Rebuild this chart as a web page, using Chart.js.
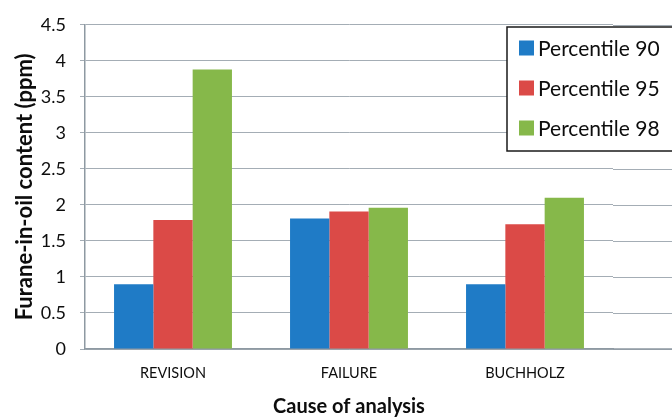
<!DOCTYPE html>
<html><head><meta charset="utf-8">
<script src="https://cdn.jsdelivr.net/npm/chart.js@4.4.1/dist/chart.umd.min.js"></script>
<style>html,body{margin:0;padding:0;background:#fff;overflow:hidden}</style>
</head><body>
<canvas id="c" width="672" height="417"></canvas>
<script>
const categories = ['REVISION', 'FAILURE', 'BUCHHOLZ'];
const seriesNames = ['Percentile 90', 'Percentile 95', 'Percentile 98'];
const p90 = [0.90, 1.81, 0.90];
const p95 = [1.79, 1.91, 1.73];
const p98 = [3.88, 1.96, 2.10];
const yTicks = [0, 0.5, 1, 1.5, 2, 2.5, 3, 3.5, 4, 4.5];

const colors = ['#1F7BC6', '#DB4A47', '#86B84A'];
const gridColor = '#A4ADB5';
const axisColor = '#8E99A2';
const textColor = '#0d0d0d';
const FONT = 'Lato, "Open Sans", sans-serif';

const extendGrid = {
  id: 'extendGrid',
  beforeDatasetsDraw(chart) {
    const {ctx, chartArea, scales: {y}} = chart;
    ctx.save();
    ctx.strokeStyle = gridColor;
    ctx.lineWidth = 1;
    y.ticks.forEach(t => {
      const py = Math.round(y.getPixelForValue(t.value)) + 0.5;
      ctx.beginPath();
      ctx.moveTo(chartArea.right, py);
      ctx.lineTo(chart.width, py);
      ctx.stroke();
    });
    ctx.strokeStyle = axisColor;
    ctx.lineWidth = 1.5;
    ctx.beginPath();
    ctx.moveTo(chartArea.right, chartArea.bottom);
    ctx.lineTo(chart.width, chartArea.bottom);
    ctx.stroke();
    ctx.restore();
  }
};

const boxLegend = {
  id: 'boxLegend',
  afterDraw(chart) {
    const {ctx} = chart;
    const x0 = 507, y0 = 27, y1 = 151;
    ctx.save();
    ctx.fillStyle = '#fff';
    ctx.fillRect(x0, y0, chart.width - x0 + 10, y1 - y0);
    ctx.strokeStyle = '#1a1a1a';
    ctx.lineWidth = 1.5;
    ctx.strokeRect(x0, y0, chart.width - x0 + 10, y1 - y0);
    ctx.font = '21px ' + FONT;
    ctx.textBaseline = 'middle';
    ctx.textAlign = 'left';
    chart.data.datasets.forEach((ds, i) => {
      const cy = 48 + i * 40;
      ctx.fillStyle = ds.backgroundColor;
      ctx.fillRect(519, cy - 7.5, 15, 15);
      ctx.fillStyle = textColor;
      ctx.fillText(ds.label, 538, cy + 1);
    });
    ctx.restore();
  }
};

new Chart(document.getElementById('c'), {
  type: 'bar',
  data: {
    labels: categories,
    datasets: [p90, p95, p98].map((d, i) => ({
      label: seriesNames[i],
      data: d,
      backgroundColor: colors[i],
      borderWidth: 0,
      categoryPercentage: 0.67,
      barPercentage: 1.0
    }))
  },
  options: {
    responsive: false,
    animation: false,
    layout: {padding: {top: 20, right: 59, left: 0, bottom: 0}},
    plugins: {legend: {display: false}, tooltip: {enabled: false}},
    scales: {
      x: {
        grid: {display: false, drawTicks: false},
        border: {display: true, color: axisColor, width: 1.5},
        ticks: {font: {family: FONT, size: 14.5}, color: textColor, padding: 16},
        title: {display: true, text: 'Cause of analysis', color: textColor,
                font: {family: FONT, size: 20, weight: 'bold', lineHeight: 1},
                padding: {top: 0, bottom: 0}},
        afterFit(s) { s.height = 68; }
      },
      y: {
        min: 0, max: 4.5,
        afterBuildTicks(s) { s.ticks = yTicks.map(v => ({value: v})); },
        grid: {color: gridColor, tickLength: 5, lineWidth: 1},
        border: {display: true, color: axisColor, width: 1.5},
        ticks: {font: {family: FONT, size: 18}, color: textColor, padding: 14,
                callback: v => String(v)},
        title: {display: true, text: 'Furane-in-oil content (ppm)', color: textColor,
                font: {family: FONT, size: 22, weight: 'bold', lineHeight: 1.2},
                padding: {top: 12, bottom: 0}},
        afterFit(s) { s.width = 85; }
      }
    }
  },
  plugins: [extendGrid, boxLegend]
});
</script>
</body></html>
